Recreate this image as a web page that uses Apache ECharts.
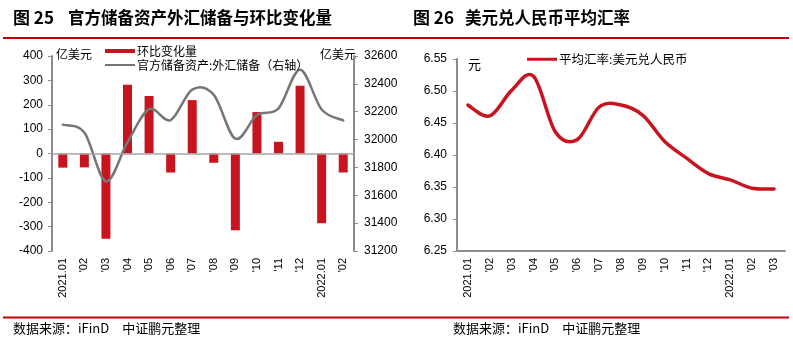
<!DOCTYPE html>
<html><head><meta charset="utf-8">
<script src="https://cdn.jsdelivr.net/npm/echarts@6/dist/echarts.min.js"></script>
<style>html,body{margin:0;padding:0;background:#fff}#c{width:793px;height:344px}</style>
</head><body><div id="c"></div>
<script>
// ---- Data ----
const catsLeft = ["2021.01","'02","'03","'04","'05","'06","'07","'08","'09","'10","'11","'12","2022.01","'02"];
const momChange = [-58,-57,-350,282,236,-78,219,-38,-315,170,48,278,-286,-78];
const fxReserves = [32107,32050,31700,31982,32218,32140,32359,32321,32006,32176,32224,32502,32216,32138];
const leftTicksL = [-400,400,100];   // min,max,interval
const leftTicksR = [31200,32600,200];

const catsRight = ["2021.01","'02","'03","'04","'05","'06","'07","'08","'09","'10","'11","'12","2022.01","'02","'03"];
const avgRate = [6.478,6.461,6.501,6.523,6.436,6.424,6.475,6.478,6.462,6.421,6.395,6.371,6.361,6.348,6.347];
const rightTicks = [6.25,6.55,0.05];

const names = {bar:'环比变化量', line:'官方储备资产:外汇储备（右轴）', rate:'平均汇率:美元兑人民币'};

const FONT = '"Liberation Sans", Arial, sans-serif';
const CJK = '"Noto Sans CJK SC", sans-serif';
const RED = '#C8141E';
const GRAY_LINE = '#767676';
const GRAY_AX = '#8C8C8C';

// Smooth (Catmull-Rom) curve drawn through axis coordinates from api.coord
function smoothRender(values, color, width) {
  return function (params, api) {
    if (params.dataIndex !== 0) return null;
    const p = values.map((v, i) => api.coord([i, v]));
    let d = 'M' + p[0][0] + ' ' + p[0][1];
    for (let i = 0; i < p.length - 1; i++) {
      const p0 = p[i - 1] || p[i], p1 = p[i], p2 = p[i + 1], p3 = p[i + 2] || p[i + 1];
      const c1 = [p1[0] + (p2[0] - p0[0]) / 6, p1[1] + (p2[1] - p0[1]) / 6];
      const c2 = [p2[0] - (p3[0] - p1[0]) / 6, p2[1] - (p3[1] - p1[1]) / 6];
      d += ' C' + c1[0] + ' ' + c1[1] + ' ' + c2[0] + ' ' + c2[1] + ' ' + p2[0] + ' ' + p2[1];
    }
    return {type:'path', shape:{pathData:d}, style:{stroke:color, lineWidth:width, fill:null, lineCap:'round', lineJoin:'round'}};
  };
}

const chart = echarts.init(document.getElementById('c'), null, {renderer:'canvas'});
const axisLab = {color:'#000', fontSize:12, fontFamily:FONT};
const xLab = {color:'#000', fontSize:11, fontFamily:FONT, rotate:90, margin:7, interval:0};
const legText = {fontSize:12, fontFamily:CJK, color:'#000', padding:[0,0,0,-3]};

chart.setOption({
  animation:false,
  backgroundColor:'#fff',
  grid:[
    {left:52, top:56, width:302, height:195},
    {left:457, top:59, width:328, height:192}
  ],
  legend:[
    {left:100, top:40, itemWidth:30, itemHeight:4, textStyle:legText,
     data:[{name:names.bar, icon:'rect'}]},
    {left:100, top:54, itemWidth:30, itemHeight:2, textStyle:legText,
     data:[{name:names.line, icon:'rect'}]},
    {left:522, top:48, itemWidth:30, itemHeight:3, textStyle:Object.assign({}, legText, {fontSize:12.5}),
     data:[{name:names.rate, icon:'rect'}]}
  ],
  xAxis:[
    {type:'category', gridIndex:0, data:catsLeft, axisLine:{show:false}, axisTick:{show:false}, axisLabel:xLab},
    {type:'category', gridIndex:1, data:catsRight,
     axisLine:{lineStyle:{color:GRAY_AX, width:2}},
     axisTick:{inside:true, length:4, lineStyle:{color:GRAY_AX, width:1.5}}, axisLabel:xLab}
  ],
  yAxis:[
    {type:'value', gridIndex:0, min:leftTicksL[0], max:leftTicksL[1], interval:leftTicksL[2],
     axisLine:{show:true, lineStyle:{color:GRAY_AX, width:2}},
     axisTick:{show:true, length:4, lineStyle:{color:GRAY_AX}}, splitLine:{show:false},
     axisLabel:Object.assign({margin:9, formatter:v=>String(v)}, axisLab)},
    {type:'value', gridIndex:0, position:'right', min:leftTicksR[0], max:leftTicksR[1], interval:leftTicksR[2],
     axisLine:{show:true, lineStyle:{color:GRAY_AX, width:2}},
     axisTick:{show:true, length:4, lineStyle:{color:GRAY_AX}}, splitLine:{show:false},
     axisLabel:Object.assign({margin:10, formatter:v=>String(v)}, axisLab)},
    {type:'value', gridIndex:1, min:rightTicks[0], max:rightTicks[1], interval:rightTicks[2],
     axisLine:{show:true, lineStyle:{color:GRAY_AX, width:2}},
     axisTick:{show:true, length:4, lineStyle:{color:GRAY_AX}}, splitLine:{show:false},
     axisLabel:Object.assign({margin:10, formatter:v=>v.toFixed(2)}, axisLab)}
  ],
  series:[
    {name:names.bar, type:'bar', xAxisIndex:0, yAxisIndex:0, data:momChange, barWidth:9,
     itemStyle:{color:RED},
     markLine:{silent:true, symbol:'none', label:{show:false},
       lineStyle:{color:'#A6A6A6', width:1.5, type:'solid'}, data:[{yAxis:0}]}},
    {name:names.line, type:'custom', xAxisIndex:0, yAxisIndex:1,
     data:fxReserves.map((v,i)=>[i,v]), encode:{x:0, y:1},
     itemStyle:{color:GRAY_LINE}, renderItem:smoothRender(fxReserves, GRAY_LINE, 2.5), z:3},
    {name:names.rate, type:'custom', xAxisIndex:1, yAxisIndex:2,
     data:avgRate.map((v,i)=>[i,v]), encode:{x:0, y:1},
     itemStyle:{color:RED}, renderItem:smoothRender(avgRate, RED, 3.5), z:3}
  ],
  graphic:[
    {type:'text', left:13, top:9, style:{text:'图 25', font:'bold 17px '+CJK, fill:'#000'}},
    {type:'text', left:68, top:9, style:{text:'官方储备资产外汇储备与环比变化量', font:'bold 16.5px '+CJK, fill:'#000'}},
    {type:'text', left:413, top:9, style:{text:'图 26', font:'bold 17px '+CJK, fill:'#000'}},
    {type:'text', left:465, top:9, style:{text:'美元兑人民币平均汇率', font:'bold 16.5px '+CJK, fill:'#000'}},
    {type:'rect', shape:{x:3, y:37, width:786, height:2}, style:{fill:'#C00000'}},
    {type:'rect', shape:{x:3, y:316.5, width:786, height:2}, style:{fill:'#C00000'}},
    {type:'text', left:13, top:322, style:{text:'数据来源：iFinD　中证鹏元整理', font:'13px '+CJK, fill:'#000'}},
    {type:'text', left:453, top:322, style:{text:'数据来源：iFinD　中证鹏元整理', font:'13px '+CJK, fill:'#000'}},
    {type:'text', left:56, top:48, style:{text:'亿美元', font:'12px '+CJK, fill:'#000'}},
    {type:'text', left:320, top:48, style:{text:'亿美元', font:'12px '+CJK, fill:'#000'}},
    {type:'text', left:468, top:58, style:{text:'元', font:'13px '+CJK, fill:'#000'}}
  ]
});
</script></body></html>
